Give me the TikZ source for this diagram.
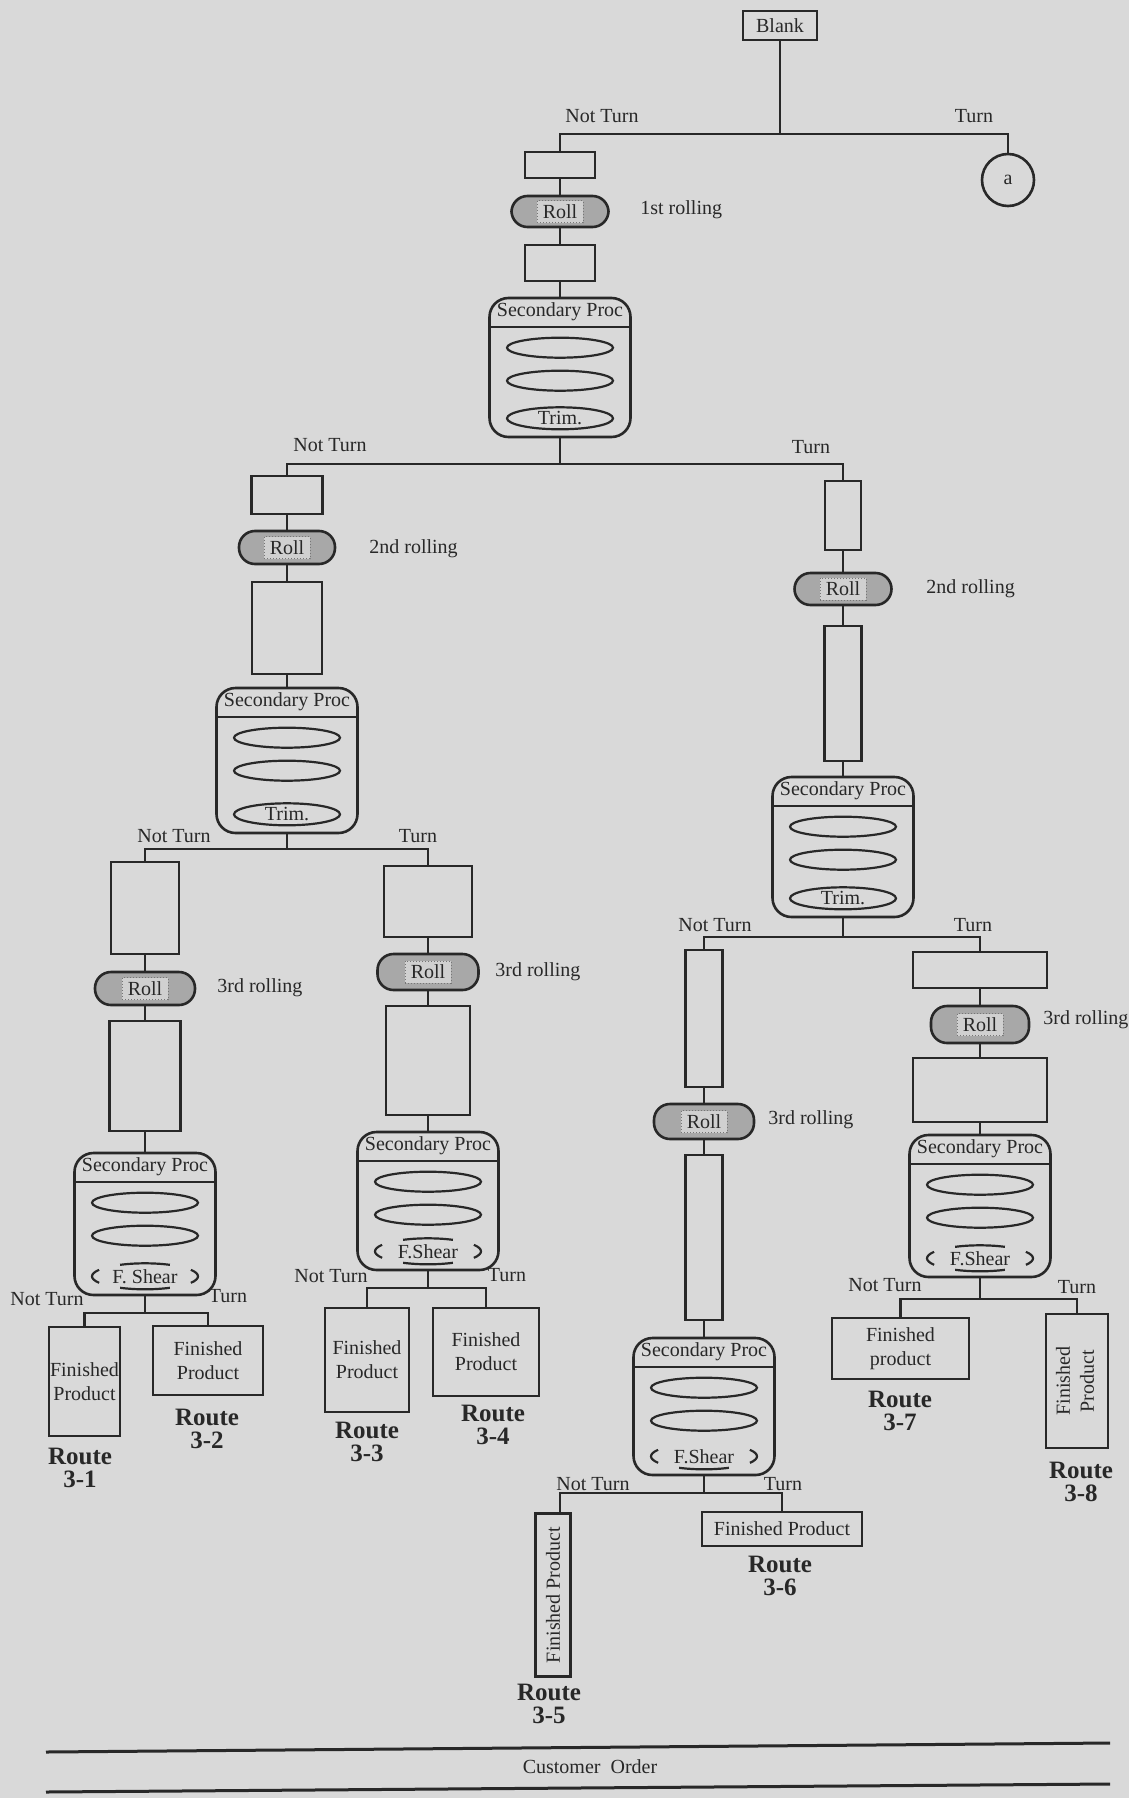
\documentclass[tikz,border=0pt]{standalone}
\usepackage{fontspec}
\setmainfont{Liberation Serif}
\definecolor{paper}{RGB}{217,217,217}
\definecolor{ink}{RGB}{40,40,40}
\definecolor{rollfill}{RGB}{168,168,168}
\definecolor{rolllight}{RGB}{208,208,208}

% plain rectangular box: name, centre x, centre y, width, height, text
\newcommand{\mkbox}[6]{%
  \node[boxnode, minimum width={#4*0.5pt}, minimum height={#5*0.5pt}] (#1) at (#2,#3) {#6};}
% shaded roll capsule: name, centre x, centre y, width, height
\newcommand{\mkroll}[5]{%
  \node[rollnode, minimum width={#4*0.5pt}, minimum height={#5*0.5pt}] (#1) at (#2,#3) {};
  \node[rolltext] (#1-t) at (#1) {Roll};}
% secondary processing vessel: name, centre x, top y, bottom y
\newcommand{\mkproc}[4]{%
  \node[procnode, minimum height={(#4-#3)*0.5pt}] (#1) at (#2,{(#3+#4)/2}) {};
  \draw[ell] ([yshift=-15pt]#1.north west) -- ([yshift=-15pt]#1.north east);
  \node[lbl] (#1-h) at ([yshift=-7.5pt]#1.north) {Secondary Proc};
  \draw[ell] ([yshift=-25.5pt]#1.north) ellipse [x radius=26.5pt, y radius=5pt];
  \draw[ell] ([yshift=-42pt]#1.north) ellipse [x radius=26.5pt, y radius=5pt];
  \coordinate (#1-e) at ([yshift=10pt]#1.south);}
% trimming step in the lowest ring
\newcommand{\mktrim}[1]{%
  \draw[ell] (#1-e) ellipse [x radius=26.5pt, y radius=5.5pt];
  \node[lbl] (#1-trim) at (#1-e) {Trim.};}
% final shearing step: name, text, with top stroke (1) or not (0)
\newcommand{\mkshear}[3]{%
  \draw[ell] (#1-e) ++(150:26.5pt and 6.5pt) arc[start angle=150, end angle=210, x radius=26.5pt, y radius=6.5pt];
  \draw[ell] (#1-e) ++(-30:26.5pt and 6.5pt) arc[start angle=-30, end angle=30, x radius=26.5pt, y radius=6.5pt];
  \draw[ell] (#1-e) ++(242:26.5pt and 6.5pt) arc[start angle=242, end angle=298, x radius=26.5pt, y radius=6.5pt];
  \ifnum#3=1
  \draw[ell] (#1-e) ++(62:26.5pt and 6.5pt) arc[start angle=62, end angle=118, x radius=26.5pt, y radius=6.5pt];
  \fi
  \node[lbl] (#1-shear) at (#1-e) {#2};}

\begin{document}
\begin{tikzpicture}[x=0.5pt, y=-0.5pt,
  conn/.style={draw=ink, line width=1.1pt},
  ell/.style={draw=ink, line width=1.1pt},
  boxnode/.style={draw=ink, line width=1.3pt, inner sep=0pt, align=center, text=ink},
  rollnode/.style={draw=ink, line width=1.3pt, fill=rollfill, rounded corners=8pt, inner sep=0pt},
  rolltext/.style={fill=rolllight, draw=rollfill!70!black, densely dotted, line width=0.5pt, inner sep=0pt,
    minimum width=23pt, minimum height=11pt, text=ink},
  procnode/.style={draw=ink, line width=1.3pt, rounded corners=9.5pt, minimum width=70.5pt, inner sep=0pt},
  lbl/.style={text=ink, inner sep=0pt},
  routelbl/.style={text=ink, align=center, inner sep=0pt,
    font=\bfseries\fontsize{12.5}{11.5}\selectfont},
]
\fill[paper] (0,0) rectangle (1129,1798);
\useasboundingbox (0,0) rectangle (1129,1798);

% ---------- root ----------
\mkbox{blank}{780}{25.5}{74}{29}{Blank}
\node[circle, draw=ink, line width=1.3pt, minimum size=26pt, inner sep=0pt, text=ink] (a) at (1008,180) {a};
\node[lbl] (nt1) at (602,116) {Not Turn};
\node[lbl] (t1) at (974,116) {Turn};

% ---------- first rolling ----------
\mkbox{b1}{560}{165}{70}{26}{}
\mkroll{r1}{560}{211.5}{97}{31}
\mkbox{b2}{560}{263}{70}{36}{}
\mkproc{p1}{560}{298}{437}
\mktrim{p1}
\node[lbl, anchor=west] (l1) at (640,210) {1st rolling};
\node[lbl] (nt2) at (330,445) {Not Turn};
\node[lbl] (t2) at (811,447) {Turn};

% ---------- second rolling, not turned ----------
\mkbox{bL1}{287}{495}{71}{38}{}
\mkroll{rL}{287}{547.5}{96}{33}
\mkbox{bL2}{287}{628}{70}{92}{}
\mkproc{pL}{287}{688}{833}
\mktrim{pL}
\node[lbl, anchor=west] (l2L) at (369,549) {2nd rolling};
\node[lbl] (nt3) at (174,836) {Not Turn};
\node[lbl] (t3) at (418,836) {Turn};

% ---------- route 3-1 / 3-2 ----------
\mkbox{b31a}{145}{908}{68}{92}{}
\mkroll{r31}{145}{988.5}{100}{33}
\mkbox{b31b}{145}{1076}{71}{110}{}
\mkproc{p31}{145}{1153}{1295}
\mkshear{p31}{F. Shear}{1}
\node[lbl, anchor=west] (l31) at (217,988) {3rd rolling};
\node[lbl] (nt4) at (47,1299) {Not Turn};
\node[lbl] (t4) at (228,1296) {Turn};
\mkbox{fp1}{84.5}{1381.5}{71}{109}{Finished\\Product}
\mkbox{fp2}{208}{1360.5}{110}{69}{Finished\\Product}
\node[routelbl] (rt1) at (80,1467.5) {Route\\3-1};
\node[routelbl] (rt2) at (207,1428.5) {Route\\3-2};

% ---------- route 3-3 / 3-4 ----------
\mkbox{b33a}{428}{901.5}{88}{71}{}
\mkroll{r33}{428}{972}{101}{36}
\mkbox{b33b}{428}{1060.5}{84}{109}{}
\mkproc{p33}{428}{1132}{1270}
\mkshear{p33}{F.Shear}{1}
\node[lbl, anchor=west] (l33) at (495,972) {3rd rolling};
\node[lbl] (nt5) at (331,1276) {Not Turn};
\node[lbl] (t5) at (507,1275) {Turn};
\mkbox{fp3}{367}{1360}{84}{104}{Finished\\Product}
\mkbox{fp4}{486}{1352}{106}{88}{Finished\\Product}
\node[routelbl] (rt3) at (367,1441.5) {Route\\3-3};
\node[routelbl] (rt4) at (493,1424.5) {Route\\3-4};

% ---------- second rolling, turned ----------
\mkbox{bR1}{843}{515.5}{36}{69}{}
\mkroll{rR}{843}{589}{97}{32}
\mkbox{bR2}{843}{693.5}{37}{135}{}
\mkproc{pR}{843}{777}{917}
\mktrim{pR}
\node[lbl, anchor=west] (l2R) at (926,589) {2nd rolling};
\node[lbl] (nt6) at (715,925) {Not Turn};
\node[lbl] (t6) at (973,925) {Turn};

% ---------- route 3-5 / 3-6 ----------
\mkbox{b35a}{704}{1018.5}{37}{137}{}
\mkroll{r35}{704}{1121.5}{100}{35}
\mkbox{b35b}{704}{1237.5}{37}{165}{}
\mkproc{p35}{704}{1338}{1475}
\mkshear{p35}{F.Shear}{0}
\node[lbl, anchor=west] (l35) at (768,1120) {3rd rolling};
\node[lbl] (nt7) at (593,1484) {Not Turn};
\node[lbl] (t7) at (783,1484) {Turn};
\mkbox{fp5}{553}{1595}{35}{163}{\rotatebox{90}{Finished Product}}
\mkbox{fp6}{782}{1529}{160}{34}{Finished Product}
\node[routelbl] (rt5) at (549,1703.5) {Route\\3-5};
\node[routelbl] (rt6) at (780,1575.5) {Route\\3-6};

% ---------- route 3-7 / 3-8 ----------
\mkbox{b37a}{980}{970}{134}{36}{}
\mkroll{r37}{980}{1024.5}{98}{37}
\mkbox{b37b}{980}{1090}{134}{64}{}
\mkproc{p37}{980}{1135}{1277}
\mkshear{p37}{F.Shear}{1}
\node[lbl, anchor=west] (l37) at (1043,1020) {3rd rolling};
\node[lbl] (nt8) at (885,1285) {Not Turn};
\node[lbl] (t8) at (1077,1287) {Turn};
\mkbox{fp7}{900.5}{1348.5}{137}{61}{Finished\\product}
\mkbox{fp8}{1077}{1381}{62}{134}{\rotatebox{90}{\begin{tabular}{@{}c@{}}Finished\\Product\end{tabular}}}
\node[routelbl] (rt7) at (900,1410.5) {Route\\3-7};
\node[routelbl] (rt8) at (1081,1481.5) {Route\\3-8};

% ---------- connectors ----------
\coordinate (s1) at (780,134);
\draw[conn] (blank.south) -- (s1);
\draw[conn] (b1.north) |- (s1) -| (a.north);
\draw[conn] (b1.south) -- (r1.north);
\draw[conn] (r1.south) -- (b2.north);
\draw[conn] (b2.south) -- (p1.north);

\coordinate (s2) at (560,464);
\draw[conn] (p1.south) -- (s2);
\draw[conn] (bL1.north) |- (s2) -| (bR1.north);

\draw[conn] (bL1.south) -- (rL.north);
\draw[conn] (rL.south) -- (bL2.north);
\draw[conn] (bL2.south) -- (pL.north);
\coordinate (s3) at (287,849);
\draw[conn] (pL.south) -- (s3);
\draw[conn] (b31a.north) |- (s3) -| (b33a.north);

\draw[conn] (b31a.south) -- (r31.north);
\draw[conn] (r31.south) -- (b31b.north);
\draw[conn] (b31b.south) -- (p31.north);
\coordinate (s4) at (145,1313);
\draw[conn] (p31.south) -- (s4);
\draw[conn] (fp1.north) |- (s4) -| (fp2.north);

\draw[conn] (b33a.south) -- (r33.north);
\draw[conn] (r33.south) -- (b33b.north);
\draw[conn] (b33b.south) -- (p33.north);
\coordinate (s5) at (428,1288);
\draw[conn] (p33.south) -- (s5);
\draw[conn] (fp3.north) |- (s5) -| (fp4.north);

\draw[conn] (bR1.south) -- (rR.north);
\draw[conn] (rR.south) -- (bR2.north);
\draw[conn] (bR2.south) -- (pR.north);
\coordinate (s6) at (843,937);
\draw[conn] (pR.south) -- (s6);
\draw[conn] (b35a.north) |- (s6) -| (b37a.north);

\draw[conn] (b35a.south) -- (r35.north);
\draw[conn] (r35.south) -- (b35b.north);
\draw[conn] (b35b.south) -- (p35.north);
\coordinate (s7) at (704,1493);
\coordinate (s7L) at (560,1493);
\draw[conn] (p35.south) -- (s7);
\draw[conn] (fp5.north -| s7L) -- (s7L) -- (s7) -| (fp6.north);

\draw[conn] (b37a.south) -- (r37.north);
\draw[conn] (r37.south) -- (b37b.north);
\draw[conn] (b37b.south) -- (p37.north);
\coordinate (s8) at (980,1299);
\draw[conn] (p37.south) -- (s8);
\draw[conn] (fp7.north) |- (s8) -| (fp8.north);

% ---------- customer order band ----------
\coordinate (c1a) at (46,1752);
\coordinate (c1b) at (1110,1743);
\coordinate (c2a) at (46,1792);
\coordinate (c2b) at (1110,1784);
\draw[draw=ink, line width=1.5pt] (c1a) -- (c1b);
\draw[draw=ink, line width=1.5pt] (c2a) -- (c2b);
\node[lbl] (co) at (590,1767) {Customer\ \ Order};
\end{tikzpicture}
\end{document}
